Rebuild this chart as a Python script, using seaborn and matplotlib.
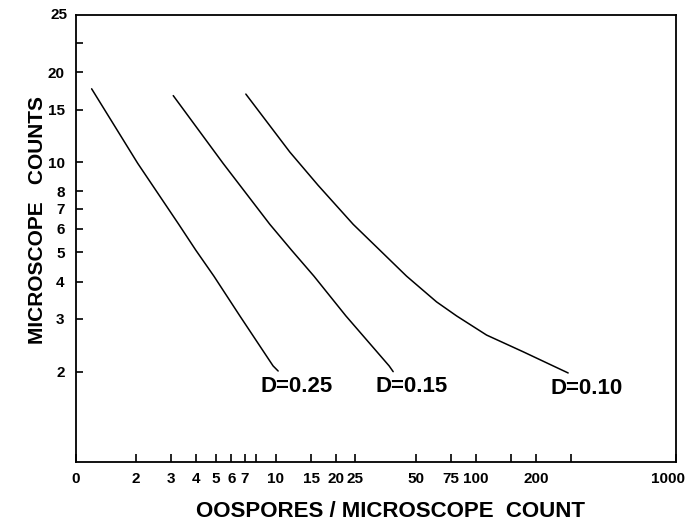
import matplotlib
matplotlib.use("Agg")
import matplotlib.pyplot as plt
from matplotlib.transforms import ScaledTranslation
import pandas as pd
import seaborn as sns

sns.set_theme(style="ticks")
plt.rcParams['font.family'] = ['Liberation Sans', 'DejaVu Sans']
plt.rcParams['font.weight'] = 'bold'
plt.rcParams['axes.labelweight'] = 'bold'

# values (log-log axes)
d025_x = [1.2, 2.04, 3.27, 3.98, 4.9, 6.61, 9.69, 10.27]
d025_y = [17.6, 9.92, 6.21, 5.09, 4.17, 3.07, 2.09, 2.01]
d015_x = [3.07, 5.45, 9.33, 11.98, 15.5, 22.4, 36.86, 38.6]
d015_y = [16.7, 9.92, 6.21, 5.09, 4.17, 3.07, 2.09, 2.0]
d010_x = [7.08, 11.75, 16.27, 24.35, 33.1, 45.0, 63.6, 80.1, 113.1, 172.4, 243.5, 289.3]
d010_y = [16.9, 10.82, 8.38, 6.21, 5.09, 4.17, 3.42, 3.07, 2.65, 2.33, 2.09, 1.98]
curve_names = ['D=0.25', 'D=0.15', 'D=0.10']

x_ticks = [1, 2, 3, 4, 5, 6, 7, 8, 10, 15, 20, 25, 50, 75, 100, 150, 200, 300, 1000]
x_tick_labels = ['0', '2', '3', '4', '5', '6', '7', '', '10', '15', '20', '25',
                 '50', '75', '100', '', '200', '', '1000']
y_ticks = [2, 3, 4, 5, 6, 7, 8, 10, 15, 20, 25]
y_tick_labels = ['2', '3', '4', '5', '6', '7', '8', '10', '15', '20', '']

frames = []
for name, xs, ys in zip(curve_names, [d025_x, d015_x, d010_x], [d025_y, d015_y, d010_y]):
    frames.append(pd.DataFrame({'oospores': xs, 'count': ys, 'curve': name}))
df = pd.concat(frames, ignore_index=True)

fig = plt.figure(figsize=(6.89, 5.23), dpi=100)
ax = fig.add_axes([0.110, 0.117, 0.871, 0.854])

sns.lineplot(data=df, x='oospores', y='count', units='curve', estimator=None,
             sort=False, color='black', linewidth=1.1, ax=ax, legend=False)

ax.set_xscale('log')
ax.set_yscale('log')
ax.set_xlim(1, 1000)
ax.set_ylim(1, 31)

ax.set_xticks(x_ticks)
ax.set_xticklabels(x_tick_labels)
ax.minorticks_off()
ax.set_yticks(y_ticks)
ax.set_yticklabels(y_tick_labels)
ax.tick_params(axis='x', direction='in', length=6, width=1.2, pad=7,
               labelsize=11, colors='black')
ax.tick_params(axis='y', direction='in', length=5, width=1.2, pad=8,
               labelsize=11, colors='black')
# keep the last x label inside the figure
last = ax.get_xticklabels()[-1]
last.set_transform(last.get_transform() + ScaledTranslation(-6 / 72, 0, fig.dpi_scale_trans))
# the top value is labelled at the upper corner in the original
ax.text(-0.014, 1.0, '25', transform=ax.transAxes, ha='right', va='center',
        fontsize=11, fontweight='bold', color='black')

for sp in ax.spines.values():
    sp.set_color('black')
    sp.set_linewidth(1.3)

# curve labels next to the lower end of each curve
for name, xs, ys in zip(curve_names, [d025_x, d015_x, d010_x], [d025_y, d015_y, d010_y]):
    ax.annotate(name, xy=(xs[-1], ys[-1]), xytext=(13, -11),
                textcoords='offset points', ha='center', va='center',
                fontsize=16, fontweight='bold', color='black')

ax.set_xlabel('OOSPORES / MICROSCOPE  COUNT', fontsize=16, color='black')
ax.set_ylabel('MICROSCOPE   COUNTS', fontsize=15, color='black')
ax.xaxis.set_label_coords(0.525, -0.087)
ax.yaxis.set_label_coords(-0.048, 0.541)

fig.savefig('out.png', dpi=100, facecolor='white')
